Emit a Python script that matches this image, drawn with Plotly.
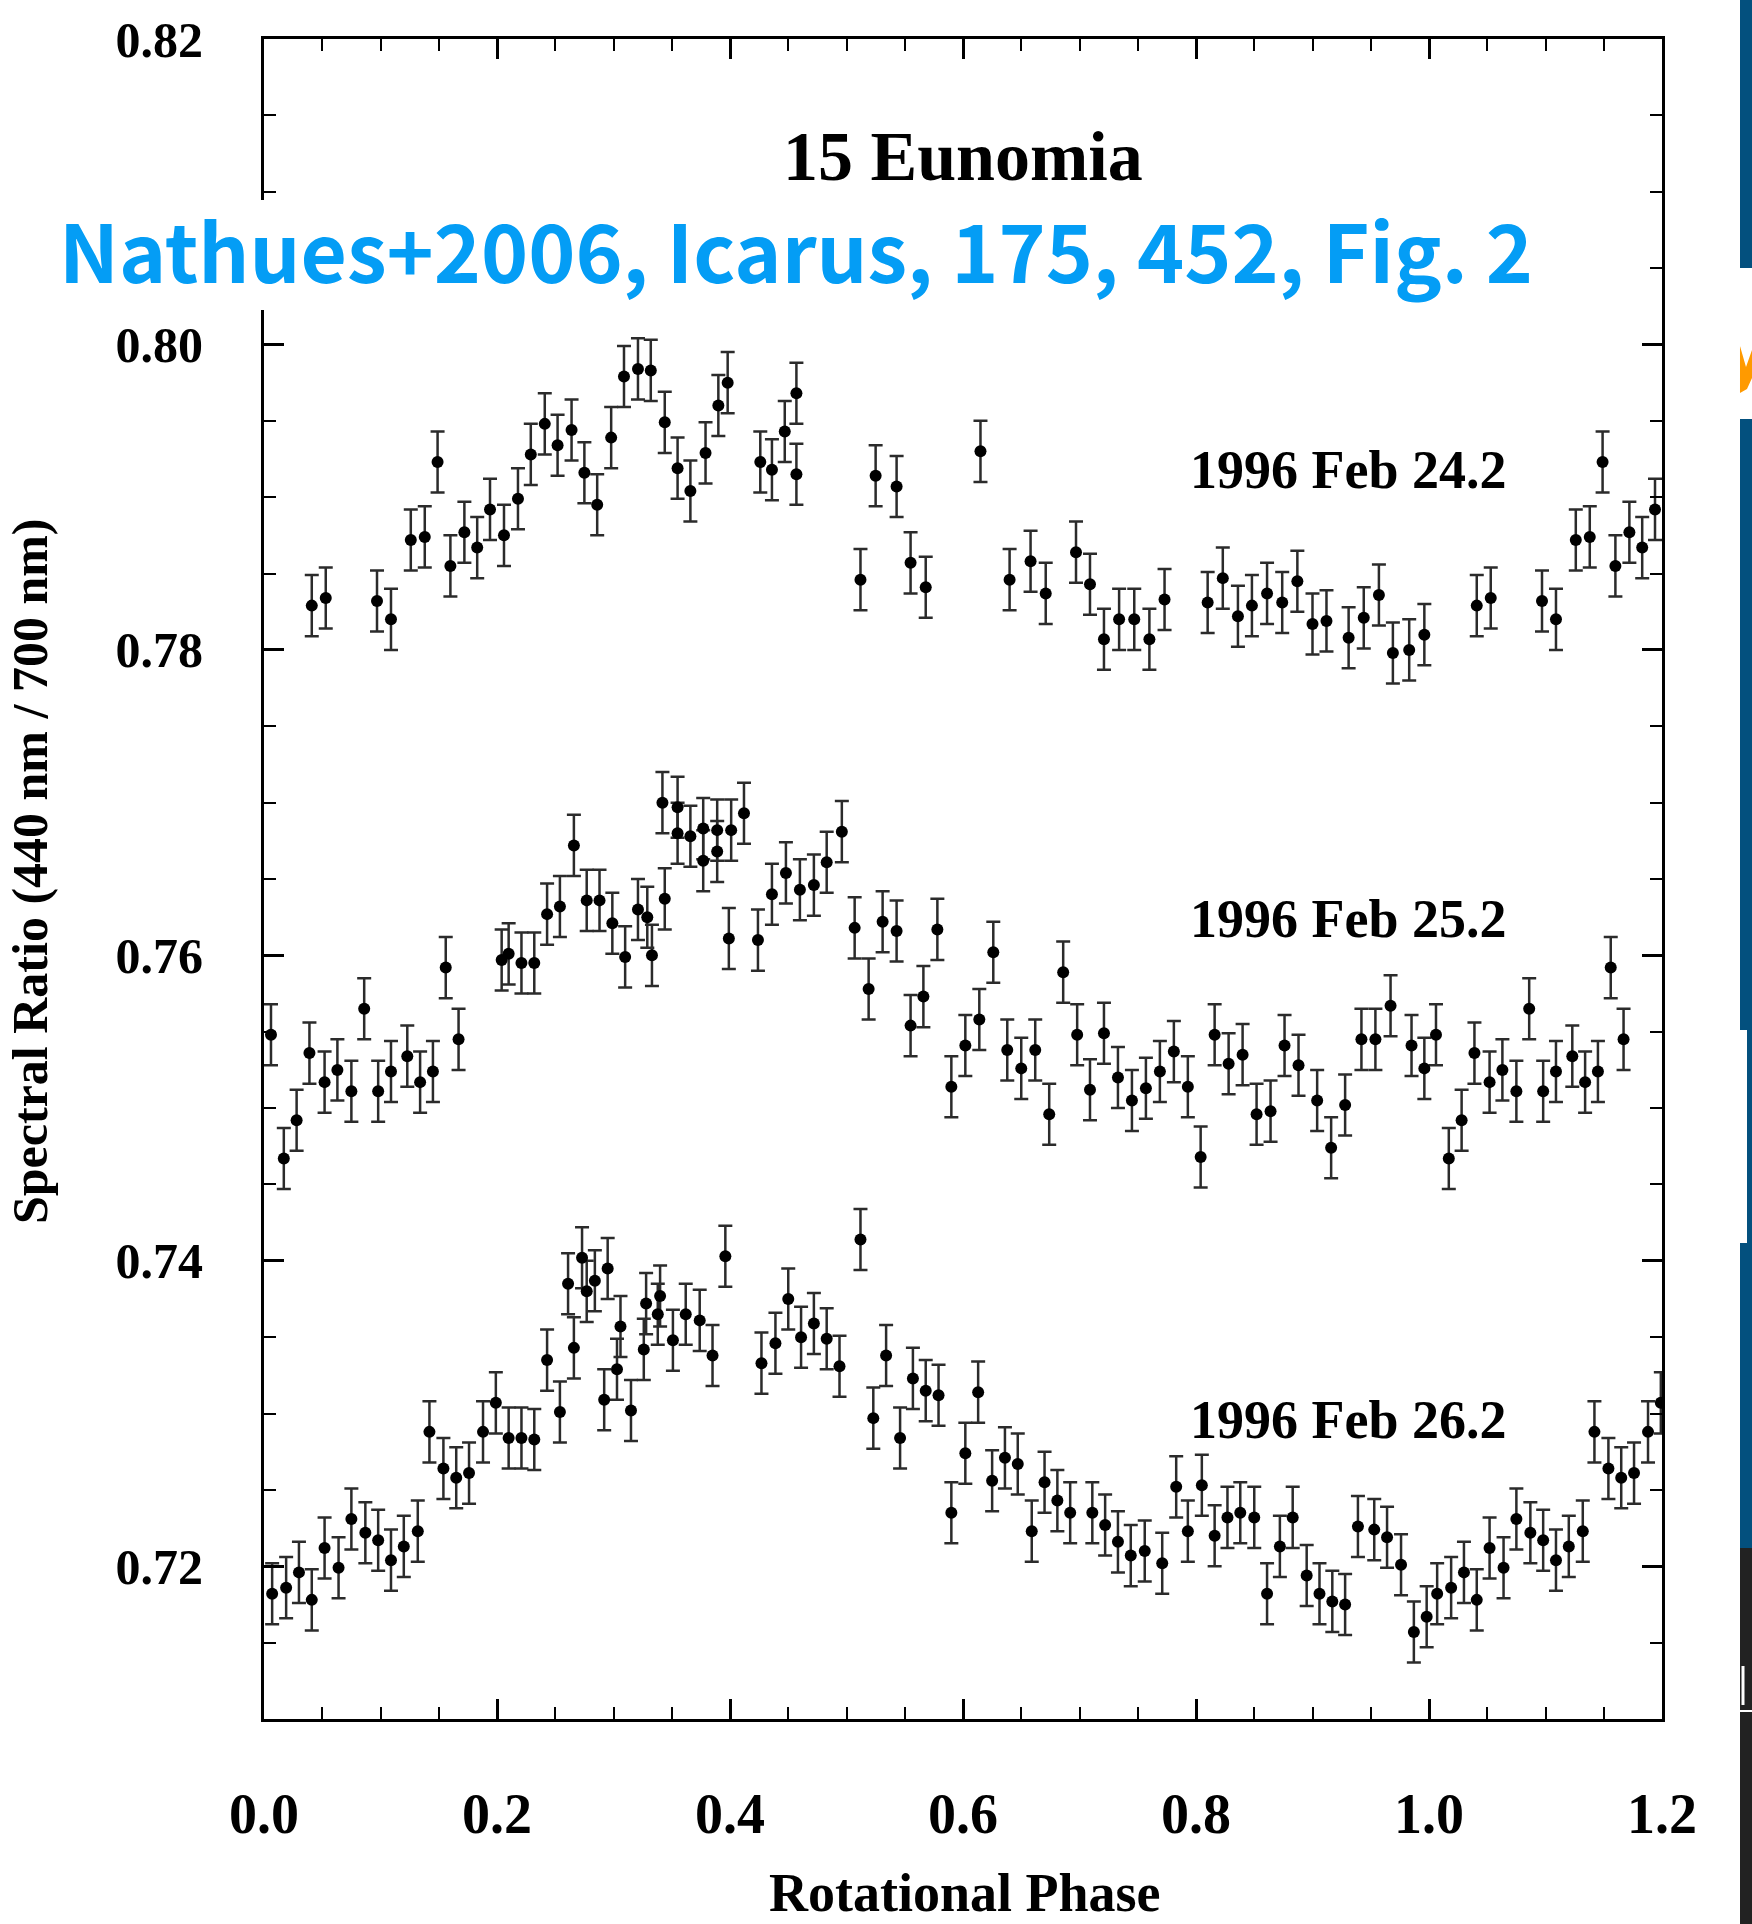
import plotly.graph_objects as go

# ---------------------------------------------------------------------------
# 15 Eunomia: 440/700 nm spectral ratio vs. rotational phase, three nights
# ---------------------------------------------------------------------------

# 1996 Feb 24.2
phase_feb24 = [0.041, 0.053, 0.097, 0.109, 0.126, 0.138, 0.149, 0.160, 0.172, 0.183,
               0.194, 0.206, 0.218, 0.229, 0.241, 0.252, 0.264, 0.275, 0.286, 0.298,
               0.309, 0.321, 0.332, 0.344, 0.355, 0.366, 0.379, 0.390, 0.398, 0.426,
               0.436, 0.447, 0.457, 0.457, 0.512, 0.525, 0.543, 0.555, 0.568, 0.615,
               0.640, 0.658, 0.671, 0.697, 0.709, 0.721, 0.734, 0.747, 0.760, 0.773,
               0.810, 0.823, 0.836, 0.848, 0.861, 0.874, 0.887, 0.900, 0.912, 0.931,
               0.944, 0.957, 0.969, 0.983, 0.996]
ratio_feb24 = [0.7829, 0.7834, 0.7832, 0.7820, 0.7872, 0.7874, 0.7923, 0.7855, 0.7877, 0.7867,
               0.7892, 0.7875, 0.7899, 0.7928, 0.7948, 0.7934, 0.7944, 0.7916, 0.7895, 0.7939,
               0.7979, 0.7984, 0.7983, 0.7949, 0.7919, 0.7904, 0.7929, 0.7960, 0.7975, 0.7923,
               0.7918, 0.7943, 0.7968, 0.7915, 0.7846, 0.7914, 0.7907, 0.7857, 0.7841, 0.7930,
               0.7846, 0.7858, 0.7837, 0.7864, 0.7843, 0.7807, 0.7820, 0.7820, 0.7807, 0.7833,
               0.7831, 0.7847, 0.7822, 0.7829, 0.7837, 0.7831, 0.7845, 0.7817, 0.7819, 0.7808,
               0.7821, 0.7836, 0.7798, 0.7800, 0.7810]

# 1996 Feb 25.2
phase_feb25 = [0.006, 0.017, 0.028, 0.039, 0.052, 0.063, 0.075, 0.086, 0.098, 0.109,
               0.123, 0.134, 0.145, 0.156, 0.167, 0.204, 0.210, 0.221, 0.232, 0.243,
               0.254, 0.266, 0.277, 0.288, 0.299, 0.310, 0.321, 0.329, 0.333, 0.342,
               0.344, 0.355, 0.355, 0.366, 0.377, 0.377, 0.389, 0.389, 0.399, 0.401,
               0.412, 0.424, 0.436, 0.448, 0.460, 0.472, 0.483, 0.496, 0.507, 0.519,
               0.531, 0.543, 0.555, 0.566, 0.578, 0.590, 0.602, 0.614, 0.626, 0.638,
               0.650, 0.662, 0.674, 0.686, 0.698, 0.709, 0.721, 0.733, 0.745, 0.757,
               0.769, 0.781, 0.793, 0.804, 0.816, 0.828, 0.840, 0.852, 0.864, 0.876,
               0.888, 0.904, 0.916, 0.928, 0.942, 0.954, 0.967, 0.985, 0.996]
ratio_feb25 = [0.7548, 0.7467, 0.7492, 0.7536, 0.7517, 0.7525, 0.7511, 0.7565, 0.7511, 0.7524,
               0.7534, 0.7517, 0.7524, 0.7592, 0.7545, 0.7597, 0.7601, 0.7595, 0.7595, 0.7627,
               0.7632, 0.7672, 0.7636, 0.7636, 0.7621, 0.7599, 0.7630, 0.7625, 0.7600, 0.7700,
               0.7637, 0.7697, 0.7680, 0.7678, 0.7683, 0.7662, 0.7682, 0.7668, 0.7611, 0.7682,
               0.7693, 0.7610, 0.7640, 0.7654, 0.7643, 0.7646, 0.7661, 0.7681, 0.7618, 0.7578,
               0.7622, 0.7616, 0.7554, 0.7573, 0.7617, 0.7514, 0.7541, 0.7558, 0.7602, 0.7538,
               0.7526, 0.7538, 0.7496, 0.7589, 0.7548, 0.7512, 0.7549, 0.7520, 0.7505, 0.7513,
               0.7524, 0.7537, 0.7514, 0.7468, 0.7548, 0.7529, 0.7535, 0.7496, 0.7498, 0.7541,
               0.7528, 0.7505, 0.7474, 0.7502, 0.7545, 0.7545, 0.7567, 0.7541, 0.7526]

# 1996 Feb 26.2
phase_feb26 = [0.007, 0.019, 0.030, 0.041, 0.052, 0.064, 0.075, 0.087, 0.098, 0.109,
               0.120, 0.132, 0.142, 0.154, 0.165, 0.176, 0.188, 0.199, 0.210, 0.221,
               0.232, 0.243, 0.254, 0.261, 0.266, 0.273, 0.277, 0.284, 0.292, 0.295,
               0.303, 0.306, 0.315, 0.326, 0.328, 0.338, 0.340, 0.351, 0.362, 0.374,
               0.385, 0.396, 0.427, 0.439, 0.450, 0.461, 0.472, 0.483, 0.494, 0.512,
               0.523, 0.534, 0.546, 0.557, 0.568, 0.579, 0.590, 0.602, 0.613, 0.625,
               0.636, 0.647, 0.659, 0.670, 0.681, 0.692, 0.711, 0.722, 0.733, 0.744,
               0.756, 0.771, 0.783, 0.793, 0.805, 0.816, 0.827, 0.838, 0.850, 0.861,
               0.872, 0.883, 0.895, 0.906, 0.917, 0.928, 0.939, 0.953, 0.964, 0.976,
               0.987, 0.998]
ratio_feb26 = [0.7182, 0.7186, 0.7196, 0.7178, 0.7212, 0.7199, 0.7231, 0.7222, 0.7217, 0.7204,
               0.7213, 0.7223, 0.7288, 0.7264, 0.7258, 0.7261, 0.7288, 0.7307, 0.7284, 0.7284,
               0.7283, 0.7335, 0.7301, 0.7385, 0.7343, 0.7402, 0.7380, 0.7387, 0.7309, 0.7395,
               0.7329, 0.7357, 0.7302, 0.7342, 0.7372, 0.7365, 0.7377, 0.7348, 0.7365, 0.7361,
               0.7338, 0.7403, 0.7333, 0.7346, 0.7375, 0.7350, 0.7359, 0.7349, 0.7331, 0.7414,
               0.7297, 0.7338, 0.7284, 0.7323, 0.7315, 0.7312, 0.7235, 0.7274, 0.7314, 0.7256,
               0.7271, 0.7267, 0.7223, 0.7255, 0.7243, 0.7235, 0.7235, 0.7227, 0.7216, 0.7207,
               0.7210, 0.7202, 0.7252, 0.7223, 0.7253, 0.7220, 0.7232, 0.7235, 0.7232, 0.7182,
               0.7213, 0.7232, 0.7194, 0.7182, 0.7177, 0.7175, 0.7226, 0.7224, 0.7219, 0.7201,
               0.7157, 0.7167]

ratio_error = 0.002          # 1-sigma uncertainty of each ratio
phase_max = 1.2              # phases beyond 1.0 repeat the start of the rotation

nights = [
    ("1996 Feb 24.2", phase_feb24, ratio_feb24, 0.7918),
    ("1996 Feb 25.2", phase_feb25, ratio_feb25, 0.7624),
    ("1996 Feb 26.2", phase_feb26, ratio_feb26, 0.7296),
]

x_ticks = [0.0, 0.2, 0.4, 0.6, 0.8, 1.0, 1.2]
y_ticks = [0.72, 0.74, 0.76, 0.78, 0.80, 0.82]

# --- figure geometry (pixels) ----------------------------------------------
W, H = 1752, 1924
ML, MR, MT, MB = 264, 90, 39, 205
PW, PH = W - ML - MR, H - MT - MB


def px_x(px):
    return (px - ML) / PW


def px_y(py):
    return (H - MB - py) / PH


SERIF = "Liberation Serif"
fig = go.Figure()

for label, ph, rt, _ in nights:
    # one full rotation plus the wrapped first part of the next
    xs = list(ph) + [p + 1.0 for p in ph if p + 1.0 <= phase_max]
    ys = list(rt) + [r for p, r in zip(ph, rt) if p + 1.0 <= phase_max]
    fig.add_trace(go.Scatter(
        x=xs, y=ys, mode="markers", name=label, showlegend=False,
        marker=dict(color="black", size=12, line=dict(width=0)),
        error_y=dict(type="constant", value=ratio_error, color="#2b2b2b",
                     thickness=2.5, width=7),
    ))

axis_common = dict(
    showline=True, linewidth=3, linecolor="black", mirror="allticks",
    ticks="inside", ticklen=20, tickwidth=2.5, tickcolor="black",
    showgrid=False, zeroline=False,
)

fig.update_xaxes(
    range=[0, phase_max], tickvals=x_ticks,
    ticktext=[f"{v:.1f}" for v in x_ticks],
    minor=dict(dtick=0.05, tick0=0, ticks="inside", ticklen=12, tickwidth=1.5,
               tickcolor="black", showgrid=False),
    tickfont=dict(family=SERIF, size=56, color="black", weight="bold"),
    ticklabelstandoff=44,
    **axis_common,
)
fig.update_yaxes(
    range=[0.71, 0.82], tickvals=y_ticks,
    ticktext=[f"{v:.2f}" for v in y_ticks],
    minor=dict(dtick=0.005, tick0=0.71, ticks="inside", ticklen=12, tickwidth=1.5,
               tickcolor="black", showgrid=False),
    tickfont=dict(family=SERIF, size=50, color="black", weight="bold"),
    ticklabelstandoff=48,
    **axis_common,
)

annotations = [
    dict(x=0.6003, y=0.8123, xref="x", yref="y", text="15 Eunomia", showarrow=False,
         xanchor="center", yanchor="middle",
         font=dict(family=SERIF, size=70, color="black", weight="bold")),
    dict(x=px_x(965), y=px_y(1893), xref="paper", yref="paper", text="Rotational Phase",
         showarrow=False, xanchor="center", yanchor="middle",
         font=dict(family=SERIF, size=54, color="black", weight="bold")),
    dict(x=px_x(30), y=px_y(871), xref="paper", yref="paper",
         text="Spectral Ratio (440 nm / 700 nm)", textangle=-90, showarrow=False,
         xanchor="center", yanchor="middle",
         font=dict(family=SERIF, size=50, color="black", weight="bold")),
]
for label, _, _, y_lab in nights:
    annotations.append(dict(
        x=0.9308, y=y_lab, xref="x", yref="y", text=label, showarrow=False,
        xanchor="center", yanchor="middle",
        font=dict(family=SERIF, size=54, color="black", weight="bold")))

# citation banner over the upper part of the frame
annotations.append(dict(
    x=px_x(796), y=px_y(248), xref="paper", yref="paper",
    text="Nathues+2006, Icarus, 175, 452, Fig. 2", showarrow=False,
    xanchor="center", yanchor="middle",
    font=dict(family="Noto Sans CJK JP", size=80, color="#049DF5", weight="bold")))

shapes = [
    # white band behind the citation
    dict(type="rect", xref="paper", yref="paper", layer="above",
         x0=px_x(0), x1=px_x(1600), y0=px_y(310), y1=px_y(200),
         fillcolor="white", line=dict(width=0)),
    # slide edge strips at the far right
    dict(type="rect", xref="paper", yref="paper", layer="above",
         x0=px_x(1740), x1=px_x(1752), y0=px_y(268), y1=px_y(0),
         fillcolor="#03507E", line=dict(width=0)),
    dict(type="rect", xref="paper", yref="paper", layer="above",
         x0=px_x(1740), x1=px_x(1752), y0=px_y(1548), y1=px_y(419),
         fillcolor="#03507E", line=dict(width=0)),
    dict(type="rect", xref="paper", yref="paper", layer="above",
         x0=px_x(1740), x1=px_x(1747), y0=px_y(1243), y1=px_y(1030),
         fillcolor="white", line=dict(width=0)),
    dict(type="rect", xref="paper", yref="paper", layer="above",
         x0=px_x(1740), x1=px_x(1752), y0=px_y(1924), y1=px_y(1548),
         fillcolor="#222222", line=dict(width=0)),
    dict(type="line", xref="paper", yref="paper", layer="above",
         x0=px_x(1740), x1=px_x(1752), y0=px_y(1711), y1=px_y(1711),
         line=dict(color="white", width=2)),
    dict(type="line", xref="paper", yref="paper", layer="above",
         x0=px_x(1743), x1=px_x(1743), y0=px_y(1705), y1=px_y(1666),
         line=dict(color="white", width=3)),
]
orange_pts = [(1740, 346), (1746, 367), (1752, 350), (1752, 378), (1747, 389), (1740, 393)]
orange_path = "M " + " L ".join(f"{px_x(a):.5f},{px_y(b):.5f}" for a, b in orange_pts) + " Z"
shapes.append(dict(type="path", xref="paper", yref="paper", layer="above",
                   path=orange_path, fillcolor="#FF9A00", line=dict(width=0)))

fig.update_layout(
    width=W, height=H,
    margin=dict(l=ML, r=MR, t=MT, b=MB, pad=0),
    paper_bgcolor="white", plot_bgcolor="white",
    annotations=annotations, shapes=shapes,
)

fig.write_html("out.html")
